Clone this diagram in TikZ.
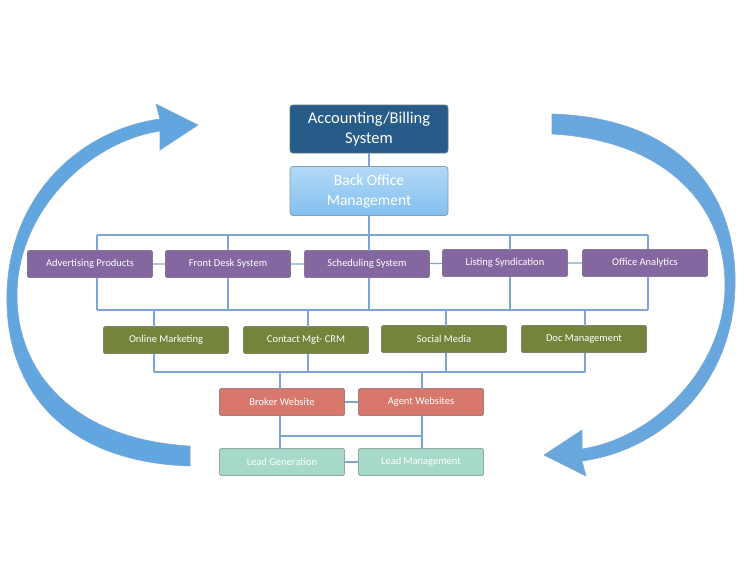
\documentclass[tikz,border=0pt]{standalone}
\usepackage{fontspec}
\setmainfont{Carlito}
\begin{document}
\begin{tikzpicture}[x=1pt,y=-1pt,
 box/.style={draw=#1!60!black!70,line width=0.8pt,minimum width=125pt,minimum height=27pt,inner sep=0pt,rounded corners=1.5pt,text=white,font=\fontsize{10.5}{12}\selectfont},
 ln/.style={draw=lnc,line width=1.3pt}]
\definecolor{lnc}{HTML}{7EA6D4}
\definecolor{dblue}{HTML}{275C8A}
\definecolor{lblue}{HTML}{82C0F0}
\definecolor{purp}{HTML}{8466A0}
\definecolor{oliv}{HTML}{75843B}
\definecolor{salm}{HTML}{D8776B}
\definecolor{mint}{HTML}{A6D9C9}
\definecolor{arr}{HTML}{62A6E0}
\useasboundingbox (0,0) rectangle (750,563);
% arrows
\def\arrowpath{(190,466) .. controls (60,462) and (4,385) .. (7,292) .. controls (10,195) and (80,130) .. (160,119) -- (156,104) -- (198,125) -- (160,150) -- (160,131) .. controls (88,142) and (17,212) .. (17,295) .. controls (17,378) and (80,440) .. (190,446) -- cycle}
\fill[arr,draw=lnc,line width=0.6pt] \arrowpath;
\begin{scope}[rotate around={180:(371,290)}]
\fill[arr!80!lnc,draw=lnc,line width=0.6pt] \arrowpath;
\end{scope}
% nodes
\node[box=dblue,fill=dblue,minimum width=158pt,minimum height=48pt,rounded corners=3pt,align=center,font=\fontsize{16.5}{20}\selectfont] (acc) at (369,129) {Accounting/Billing\\System};
\node[box=lblue,top color=lblue!60!white,bottom color=lblue,minimum width=158pt,minimum height=49pt,rounded corners=3pt,align=center,font=\fontsize{15.5}{20}\selectfont] (bo) at (369,191) {Back Office\\Management};
\node[box=purp,fill=purp] (a1) at (90,264) {Advertising Products};
\node[box=purp,fill=purp] (a2) at (228,264) {Front Desk System};
\node[box=purp,fill=purp] (a3) at (367,264) {Scheduling System};
\node[box=purp,fill=purp] (a4) at (505,263) {Listing Syndication};
\node[box=purp,fill=purp] (a5) at (645,263) {Office Analytics};
\node[box=oliv,fill=oliv] (b1) at (166,340) {Online Marketing};
\node[box=oliv,fill=oliv] (b2) at (306,340) {Contact Mgt- CRM};
\node[box=oliv,fill=oliv] (b3) at (444,339) {Social Media};
\node[box=oliv,fill=oliv] (b4) at (584,339) {Doc Management};
\node[box=salm,fill=salm] (c1) at (282,402) {Broker Website};
\node[box=salm,fill=salm] (c2) at (421,402) {Agent Websites};
\node[box=mint,fill=mint] (d1) at (282,462) {Lead Generation};
\node[box=mint,fill=mint] (d2) at (421,462) {Lead Management};
% connectors
\coordinate (t1) at (97,235); \coordinate (t5) at (648,235);
\coordinate (u1) at (97,310); \coordinate (u5) at (648,310);
\coordinate (w1) at (154,372); \coordinate (w4) at (585,372);
\draw[ln] (acc) -- (bo);
\draw[ln] (bo.south) -- (369,235);
\draw[ln] (t1) -- (t5);
\draw[ln] (t1) -- (t1|-a1.north) (a1.south-|t1) -- (u1);
\draw[ln] (228,235) -- (a2.north) (a2.south) -- (228,310);
\draw[ln] (369,235) -- (369,250.5) (369,277.5) -- (369,310);
\draw[ln] (510,235) -- (510,249.5) (510,276.5) -- (510,310);
\draw[ln] (t5) -- (t5|-a5.north) (a5.south-|t5) -- (u5);
\draw[ln] (u1) -- (u5);
\draw[ln] (a1) -- (a2) (a2) -- (a3) (a3) -- (a4) (a4) -- (a5);
\draw[ln] (154,310) -- (154,326.5) (154,353.5) -- (w1);
\draw[ln] (308,310) -- (308,326.5) (308,353.5) -- (308,372);
\draw[ln] (446,310) -- (446,325.5) (446,352.5) -- (446,372);
\draw[ln] (585,310) -- (585,325.5) (585,352.5) -- (w4);
\draw[ln] (w1) -- (w4);
\draw[ln] (280,372) -- (280,388.5) (422,372) -- (422,388.5);
\draw[ln] (c1) -- (c2) (d1) -- (d2);
\draw[ln] (280,415.5) -- (280,448.5) (422,415.5) -- (422,448.5) (280,436) -- (422,436);
\end{tikzpicture}
\end{document}
